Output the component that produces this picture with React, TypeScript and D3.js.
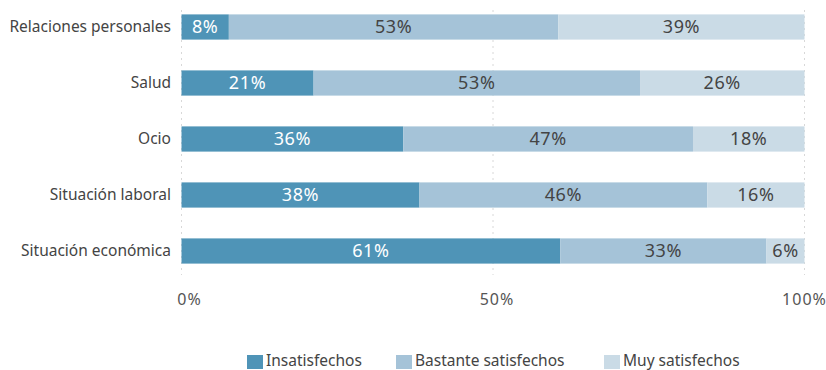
import React from "react";
import * as d3 from "d3";

const categories = ["Relaciones personales", "Salud", "Ocio", "Situación laboral", "Situación económica"];
const seriesNames = ["Insatisfechos", "Bastante satisfechos", "Muy satisfechos"];
const insatisfechos = [7.6, 21.2, 35.6, 38.2, 60.8];
const bastante = [52.9, 52.4, 46.5, 46.2, 33.1];
const muy = [39.5, 26.4, 17.9, 15.6, 6.1];
const labelsIns = ["8%", "21%", "36%", "38%", "61%"];
const labelsBas = ["53%", "53%", "47%", "46%", "33%"];
const labelsMuy = ["39%", "26%", "18%", "16%", "6%"];
const xTicks = [0, 50, 100];
const colors = ["#4f94b7", "#a5c3d8", "#cadbe6"];
const textColors = ["#ffffff", "#444444", "#444444"];

const W = 826, H = 370;
const FONT = "'Noto Sans', 'Open Sans', sans-serif";

export default function App() {
  const x = d3.scaleLinear().domain([0, 100]).range([181.5, 804.5]);
  const y = d3.scaleBand().domain(categories).range([-1, 279]).paddingInner(0.55).paddingOuter(0.275);
  const rows = categories.map((c, i) => ({ c, vals: [insatisfechos[i], bastante[i], muy[i]], labels: [labelsIns[i], labelsBas[i], labelsMuy[i]] }));
  const stackGen = (vals: number[]) => {
    let acc = 0;
    return vals.map(v => { const s = acc; acc += v; return [s, acc]; });
  };
  const legendX = [247, 396, 604];
  return (
    <svg width={W} height={H} style={{ position: "absolute", left: 0, top: 0, fontFamily: FONT }}>
      {xTicks.map(t => (
        <line key={t} x1={x(t)} x2={x(t)} y1={10} y2={275} stroke="#d8d8d8" strokeDasharray="2,4" />
      ))}
      {rows.map(r => {
        const segs = stackGen(r.vals);
        const y0 = y(r.c)!;
        const bh = y.bandwidth();
        return (
          <g key={r.c}>
            {segs.map(([a, b], j) => (
              <rect key={j} x={x(a)} y={y0} width={x(b) - x(a)} height={bh} fill={colors[j]} />
            ))}
            {segs.map(([a, b], j) => (
              <text key={"t" + j} x={(x(a) + x(b)) / 2} y={y0 + bh / 2} dy="0.36em" textAnchor="middle" fontSize={18} letterSpacing={0.6} fill={textColors[j]}>{r.labels[j]}</text>
            ))}
            <text x={171} y={y0 + bh / 2} dy="0.35em" textAnchor="end" fontSize={15.5} fill="#444">{r.c}</text>
          </g>
        );
      })}
      {xTicks.map(t => (
        <text key={"x" + t} x={x(t) + (t === 0 ? 8 : t === 50 ? 4 : 0)} y={299} dy="0.35em" textAnchor="middle" fontSize={16} letterSpacing={1} fill="#555">{t}%</text>
      ))}
      {seriesNames.map((n, i) => (
        <g key={n}>
          <rect x={legendX[i]} y={355} width={16} height={14} fill={colors[i]} />
          <text x={legendX[i] + 19} y={365.5} fontSize={15.5} fill="#444">{n}</text>
        </g>
      ))}
    </svg>
  );
}
